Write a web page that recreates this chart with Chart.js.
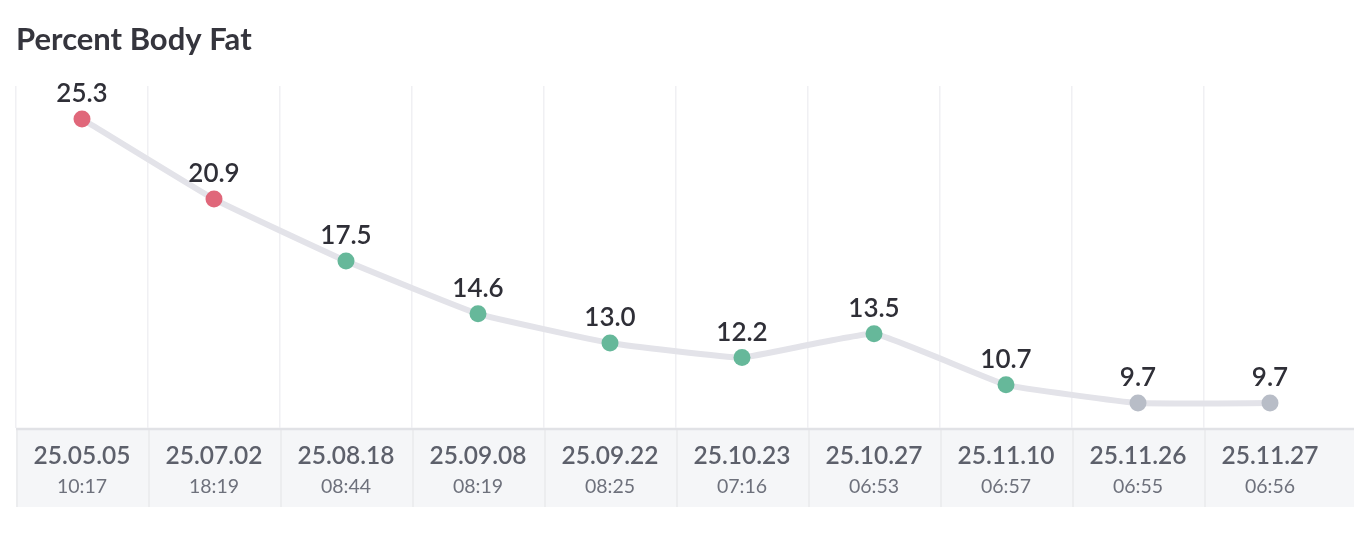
<!DOCTYPE html>
<html>
<head>
<meta charset="utf-8">
<script src="https://cdn.jsdelivr.net/npm/chart.js@4/dist/chart.umd.min.js"></script>
<style>
  html, body { margin: 0; padding: 0; background: #ffffff; }
  #wrap { position: relative; width: 1354px; height: 538px; }
  canvas { background: #ffffff; }
</style>
</head>
<body>
<div id="wrap"><canvas id="c"></canvas></div>
<script>
const titleText = 'Percent Body Fat';
const dates = ['25.05.05', '25.07.02', '25.08.18', '25.09.08', '25.09.22', '25.10.23', '25.10.27', '25.11.10', '25.11.26', '25.11.27'];
const times = ['10:17', '18:19', '08:44', '08:19', '08:25', '07:16', '06:53', '06:57', '06:55', '06:56'];
const values = [25.3, 20.9, 17.5, 14.6, 13.0, 12.2, 13.5, 10.7, 9.7, 9.7];
const statuses = ['high', 'high', 'normal', 'normal', 'normal', 'normal', 'normal', 'normal', 'low', 'low'];

const statusColors = { high: '#e0677a', normal: '#66b89a', low: '#b8bdc7' };
const FONT = 'Lato, "Source Sans Pro", "Noto Sans", sans-serif';

const bandPlugin = {
  id: 'band',
  beforeDraw(chart) {
    const ctx = chart.ctx;
    const area = chart.chartArea;
    const xs = chart.scales.x;
    const bandBottom = 507;
    ctx.save();
    ctx.fillStyle = '#f5f6f8';
    ctx.fillRect(area.left, area.bottom, chart.width - area.left, bandBottom - area.bottom);
    // separators
    ctx.strokeStyle = '#e9eaed';
    ctx.lineWidth = 1.5;
    const n = dates.length;
    const step = n > 1 ? xs.getPixelForTick(1) - xs.getPixelForTick(0) : 0;
    for (let i = 0; i < n; i++) {
      const px = xs.getPixelForTick(i) - step / 2 + 1;
      ctx.beginPath();
      ctx.moveTo(px, area.bottom);
      ctx.lineTo(px, bandBottom);
      ctx.stroke();
    }
    // top border
    ctx.strokeStyle = '#e1e2e6';
    ctx.lineWidth = 2.5;
    ctx.beginPath();
    ctx.moveTo(area.left, area.bottom + 1);
    ctx.lineTo(chart.width, area.bottom + 1);
    ctx.stroke();
    ctx.restore();
  }
};

const valueLabelPlugin = {
  id: 'valueLabels',
  afterDatasetsDraw(chart) {
    const ctx = chart.ctx;
    const meta = chart.getDatasetMeta(0);
    ctx.save();
    ctx.font = '600 26px ' + FONT;
    ctx.fillStyle = '#2f2f37';
    ctx.textAlign = 'center';
    ctx.textBaseline = 'alphabetic';
    meta.data.forEach((el, i) => {
      ctx.fillText(values[i].toFixed(1), el.x, el.y - 17);
    });
    ctx.restore();
  }
};

new Chart(document.getElementById('c'), {
  type: 'line',
  data: {
    labels: dates,
    datasets: [{
      data: values,
      borderColor: '#e3e3e9',
      borderWidth: 6,
      tension: 0.1,
      pointRadius: 8.5,
      pointHoverRadius: 8.5,
      pointBorderWidth: 0,
      pointBackgroundColor: statuses.map(s => statusColors[s]),
      clip: false
    }]
  },
  options: {
    responsive: true,
    maintainAspectRatio: false,
    animation: false,
    events: [],
    layout: { padding: { left: 16, right: 18, top: 0, bottom: 31 } },
    plugins: {
      legend: { display: false },
      tooltip: { enabled: false },
      title: {
        display: true,
        text: titleText,
        align: 'start',
        color: '#35353d',
        font: { family: FONT, size: 31, weight: 'bold', lineHeight: 1.2 },
        padding: { top: 21.2, bottom: 27.6 }
      }
    },
    scales: {
      y: {
        display: false,
        min: 8.33,
        max: 27.11
      },
      x: {
        type: 'category',
        position: 'bottom',
        offset: true,
        weight: 0,
        border: { display: false },
        grid: {
          offset: true,
          color: (c) => (c.type === 'tick' ? '#f0f0f3' : 'rgba(0,0,0,0)'),
          lineWidth: 1.5,
          drawTicks: false
        },
        ticks: {
          color: '#5d606b',
          font: { family: FONT, size: 24.5, weight: '600' },
          padding: 13.5,
          maxRotation: 0,
          autoSkip: false
        },
        afterFit(scale) { scale.height = 44; }
      },
      x2: {
        type: 'category',
        position: 'bottom',
        offset: true,
        weight: 1,
        border: { display: false },
        grid: { display: false, drawTicks: false },
        ticks: {
          color: '#6e717c',
          font: { family: FONT, size: 19.5, weight: 'normal' },
          padding: 3,
          maxRotation: 0,
          autoSkip: false,
          callback: (v, i) => times[i]
        },
        afterFit(scale) { scale.height = 35; }
      }
    }
  },
  plugins: [bandPlugin, valueLabelPlugin]
});
</script>
</body>
</html>
